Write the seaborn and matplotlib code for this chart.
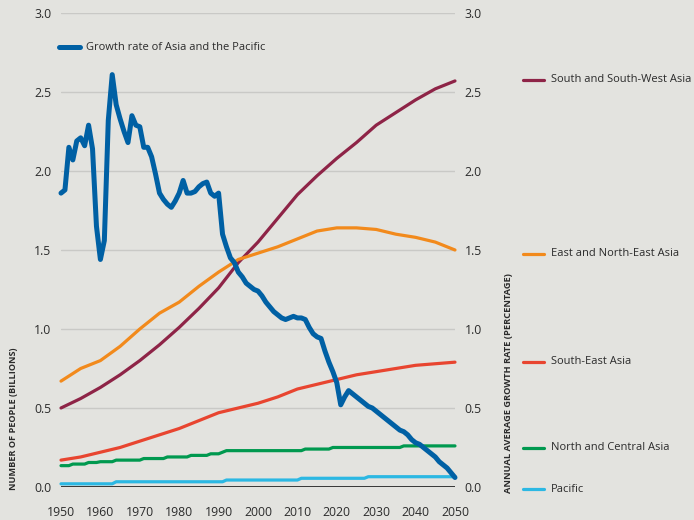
import matplotlib
matplotlib.use("Agg")
import matplotlib.pyplot as plt
import pandas as pd
import seaborn as sns
from matplotlib.lines import Line2D

# dados
years5 = list(range(1950, 2051, 5))
years1 = list(range(1950, 2051))

south_sw = [0.50, 0.56, 0.63, 0.71, 0.80, 0.90, 1.01, 1.13, 1.26, 1.42, 1.55,
            1.70, 1.85, 1.97, 2.08, 2.18, 2.29, 2.37, 2.45, 2.52, 2.57]
east_ne = [0.67, 0.75, 0.80, 0.89, 1.00, 1.10, 1.17, 1.27, 1.36, 1.44, 1.48,
           1.52, 1.57, 1.62, 1.64, 1.64, 1.63, 1.60, 1.58, 1.55, 1.50]
south_east = [0.17, 0.19, 0.22, 0.25, 0.29, 0.33, 0.37, 0.42, 0.47, 0.50, 0.53,
              0.57, 0.62, 0.65, 0.68, 0.71, 0.73, 0.75, 0.77, 0.78, 0.79]

north_central = [
    0.135, 0.135, 0.135, 0.145, 0.145, 0.145, 0.145, 0.155, 0.155, 0.155,  # 1950s
    0.16, 0.16, 0.16, 0.16, 0.17, 0.17, 0.17, 0.17, 0.17, 0.17,            # 1960s
    0.17, 0.18, 0.18, 0.18, 0.18, 0.18, 0.18, 0.19, 0.19, 0.19,            # 1970s
    0.19, 0.19, 0.19, 0.20, 0.20, 0.20, 0.20, 0.20, 0.21, 0.21,            # 1980s
    0.21, 0.22, 0.23, 0.23, 0.23, 0.23, 0.23, 0.23, 0.23, 0.23,            # 1990s
    0.23, 0.23, 0.23, 0.23, 0.23, 0.23, 0.23, 0.23, 0.23, 0.23,            # 2000s
    0.23, 0.23, 0.24, 0.24, 0.24, 0.24, 0.24, 0.24, 0.24, 0.25,            # 2010s
    0.25, 0.25, 0.25, 0.25, 0.25, 0.25, 0.25, 0.25, 0.25, 0.25,            # 2020s
    0.25, 0.25, 0.25, 0.25, 0.25, 0.25, 0.25, 0.26, 0.26, 0.26,            # 2030s
    0.26, 0.26, 0.26, 0.26, 0.26, 0.26, 0.26, 0.26, 0.26, 0.26,            # 2040s
    0.26]
pacific = [
    0.02, 0.02, 0.02, 0.02, 0.02, 0.02, 0.02, 0.02, 0.02, 0.02,
    0.02, 0.02, 0.02, 0.02, 0.033, 0.033, 0.033, 0.033, 0.033, 0.033,
    0.033, 0.033, 0.033, 0.033, 0.033, 0.033, 0.033, 0.033, 0.033, 0.033,
    0.033, 0.033, 0.033, 0.033, 0.033, 0.033, 0.033, 0.033, 0.033, 0.033,
    0.033, 0.033, 0.044, 0.044, 0.044, 0.044, 0.044, 0.044, 0.044, 0.044,
    0.044, 0.044, 0.044, 0.044, 0.044, 0.044, 0.044, 0.044, 0.044, 0.044,
    0.044, 0.055, 0.055, 0.055, 0.055, 0.055, 0.055, 0.055, 0.055, 0.055,
    0.055, 0.055, 0.055, 0.055, 0.055, 0.055, 0.055, 0.055, 0.065, 0.065,
    0.065, 0.065, 0.065, 0.065, 0.065, 0.065, 0.065, 0.065, 0.065, 0.065,
    0.065, 0.065, 0.065, 0.065, 0.065, 0.065, 0.065, 0.065, 0.065, 0.065,
    0.065]

growth_rate = [
    1.86, 1.88, 2.15, 2.07, 2.19, 2.21, 2.16, 2.29, 2.14, 1.65,  # 1950s
    1.44, 1.56, 2.32, 2.61, 2.42, 2.33, 2.25, 2.18, 2.35, 2.29,  # 1960s
    2.28, 2.15, 2.15, 2.09, 1.98, 1.86, 1.82, 1.79, 1.77, 1.81,  # 1970s
    1.86, 1.94, 1.86, 1.86, 1.87, 1.90, 1.92, 1.93, 1.86, 1.84,  # 1980s
    1.86, 1.60, 1.52, 1.45, 1.42, 1.36, 1.33, 1.29, 1.27, 1.25,  # 1990s
    1.24, 1.21, 1.17, 1.14, 1.11, 1.09, 1.07, 1.06, 1.07, 1.08,  # 2000s
    1.07, 1.07, 1.06, 1.01, 0.97, 0.95, 0.94, 0.86, 0.79, 0.73,  # 2010s
    0.66, 0.52, 0.57, 0.61, 0.59, 0.57, 0.55, 0.53, 0.51, 0.50,  # 2020s
    0.48, 0.46, 0.44, 0.42, 0.40, 0.38, 0.36, 0.35, 0.33, 0.30,  # 2030s
    0.28, 0.27, 0.25, 0.23, 0.21, 0.19, 0.16, 0.14, 0.12, 0.09,  # 2040s
    0.06]

region_names = ["South and South-West Asia", "East and North-East Asia",
                "South-East Asia", "North and Central Asia", "Pacific"]
region_colors = ["#8e2447", "#f28a1c", "#e84530", "#00994f", "#2cb8e3"]
growth_color = "#0060a4"
bg = "#e3e3df"

df5 = pd.DataFrame({"year": years5, region_names[0]: south_sw,
                    region_names[1]: east_ne, region_names[2]: south_east})
df1 = pd.DataFrame({"year": years1, region_names[3]: north_central,
                    region_names[4]: pacific, "growth": growth_rate})

sns.set_style("white")
plt.rcParams["font.family"] = ["Open Sans", "DejaVu Sans"]
plt.rcParams["text.color"] = "#2b2b2b"

fig = plt.figure(figsize=(6.94, 5.2), dpi=100, facecolor=bg)
ax = fig.add_axes([0.0879, 0.0635, 0.5677, 0.9115])
ax.set_facecolor(bg)

# linhas de grade
for v in [0.5, 1.0, 1.5, 2.0, 2.5, 3.0]:
    ax.axhline(v, color="#c9c9c6", lw=1.0, zorder=0)
ax.axhline(0, color="#1a1a1a", lw=1.2, zorder=1)

# populações
for name, color in zip(region_names, region_colors):
    src = df5 if name in df5.columns else df1
    sns.lineplot(data=src, x="year", y=name, color=color, lw=2.3, ax=ax,
                 clip_on=False, zorder=3)

ax.set_xlim(1950, 2050)
ax.set_ylim(0, 3.0)
ax.set_yticks([0, 0.5, 1.0, 1.5, 2.0, 2.5, 3.0])
ax.set_xticks(range(1950, 2051, 10))
ax.set_xlabel("")
ax.set_ylabel("")
ax.tick_params(axis="both", length=0, labelsize=8.8, labelcolor="#2b2b2b")
ax.tick_params(axis="y", pad=7)
ax.tick_params(axis="x", pad=14)
for s in ax.spines.values():
    s.set_visible(False)

# taxa de crescimento no eixo da direita
ax2 = ax.twinx()
sns.lineplot(data=df1, x="year", y="growth", color=growth_color, lw=3.6,
             ax=ax2, clip_on=False, zorder=5)
ax2.set_ylim(0, 3.0)
ax2.set_yticks([0, 0.5, 1.0, 1.5, 2.0, 2.5, 3.0])
ax2.set_ylabel("")
ax2.tick_params(axis="y", length=0, labelsize=8.8, labelcolor="#2b2b2b", pad=7)
for s in ax2.spines.values():
    s.set_visible(False)

# rótulos dos eixos
fig.text(0.020, 0.058, "NUMBER OF PEOPLE (BILLIONS)", rotation=90,
         ha="center", va="bottom", fontsize=6.6, fontweight="bold")
fig.text(0.732, 0.052, "ANNUAL AVERAGE GROWTH RATE (PERCENTAGE)", rotation=90,
         ha="center", va="bottom", fontsize=6.7, fontweight="bold")

# legenda de cima
fig.add_artist(Line2D([59 / 694, 80 / 694], [1 - 47 / 520, 1 - 47 / 520],
                      color=growth_color, lw=3.6, solid_capstyle="round"))
fig.text(86 / 694, 1 - 48 / 520, "Growth rate of Asia and the Pacific",
         fontsize=8, va="center", ha="left")

# legenda da direita
label_py = [80, 254, 362, 448, 489]
for name, color, py in zip(region_names, region_colors, label_py):
    yf = 1 - py / 520
    fig.add_artist(Line2D([523 / 694, 544 / 694], [yf, yf], color=color, lw=2.3))
    fig.text(551 / 694, yf, name, fontsize=8, va="center", ha="left")

fig.savefig("out.png", dpi=100, facecolor=bg)
